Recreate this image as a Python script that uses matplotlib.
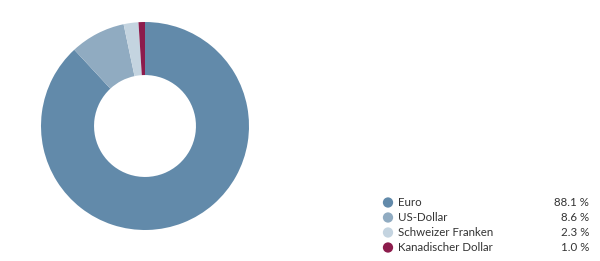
import matplotlib.pyplot as plt

plt.rcParams['font.family'] = ['Lato', 'DejaVu Sans']

labels = ['Euro', 'US-Dollar', 'Schweizer Franken', 'Kanadischer Dollar']
values = [88.1, 8.6, 2.3, 1.0]
value_labels = ['88.1 %', '8.6 %', '2.3 %', '1.0 %']
colors = ['#628aaa', '#90abc1', '#c4d4e0', '#8c1c4c']

fig = plt.figure(figsize=(6, 2.61), dpi=100)

# donut
cx, cy, r = 145, 126, 104
ax = fig.add_axes([(cx - r) / 600, (261 - cy - r) / 261, 2 * r / 600, 2 * r / 261])
ax.pie(values, colors=colors, startangle=90, counterclock=False,
       wedgeprops=dict(width=0.51, edgecolor='none'))
ax.set_xlim(-1, 1)
ax.set_ylim(-1, 1)
ax.axis('off')

# legend
lg = fig.add_axes([0, 0, 1, 1])
lg.set_xlim(0, 600)
lg.set_ylim(261, 0)
lg.axis('off')
y0, dy = 202.5, 15.0
for i, (lab, val, c) in enumerate(zip(labels, value_labels, colors)):
    y = y0 + i * dy
    lg.scatter([388], [y], s=55, color=c, edgecolors='none')
    lg.text(398, y, lab, va='center', ha='left', fontsize=8.3, color='#333333')
    lg.text(589, y, val, va='center', ha='right', fontsize=8.3, color='#333333')

fig.savefig('out.png', dpi=100)
